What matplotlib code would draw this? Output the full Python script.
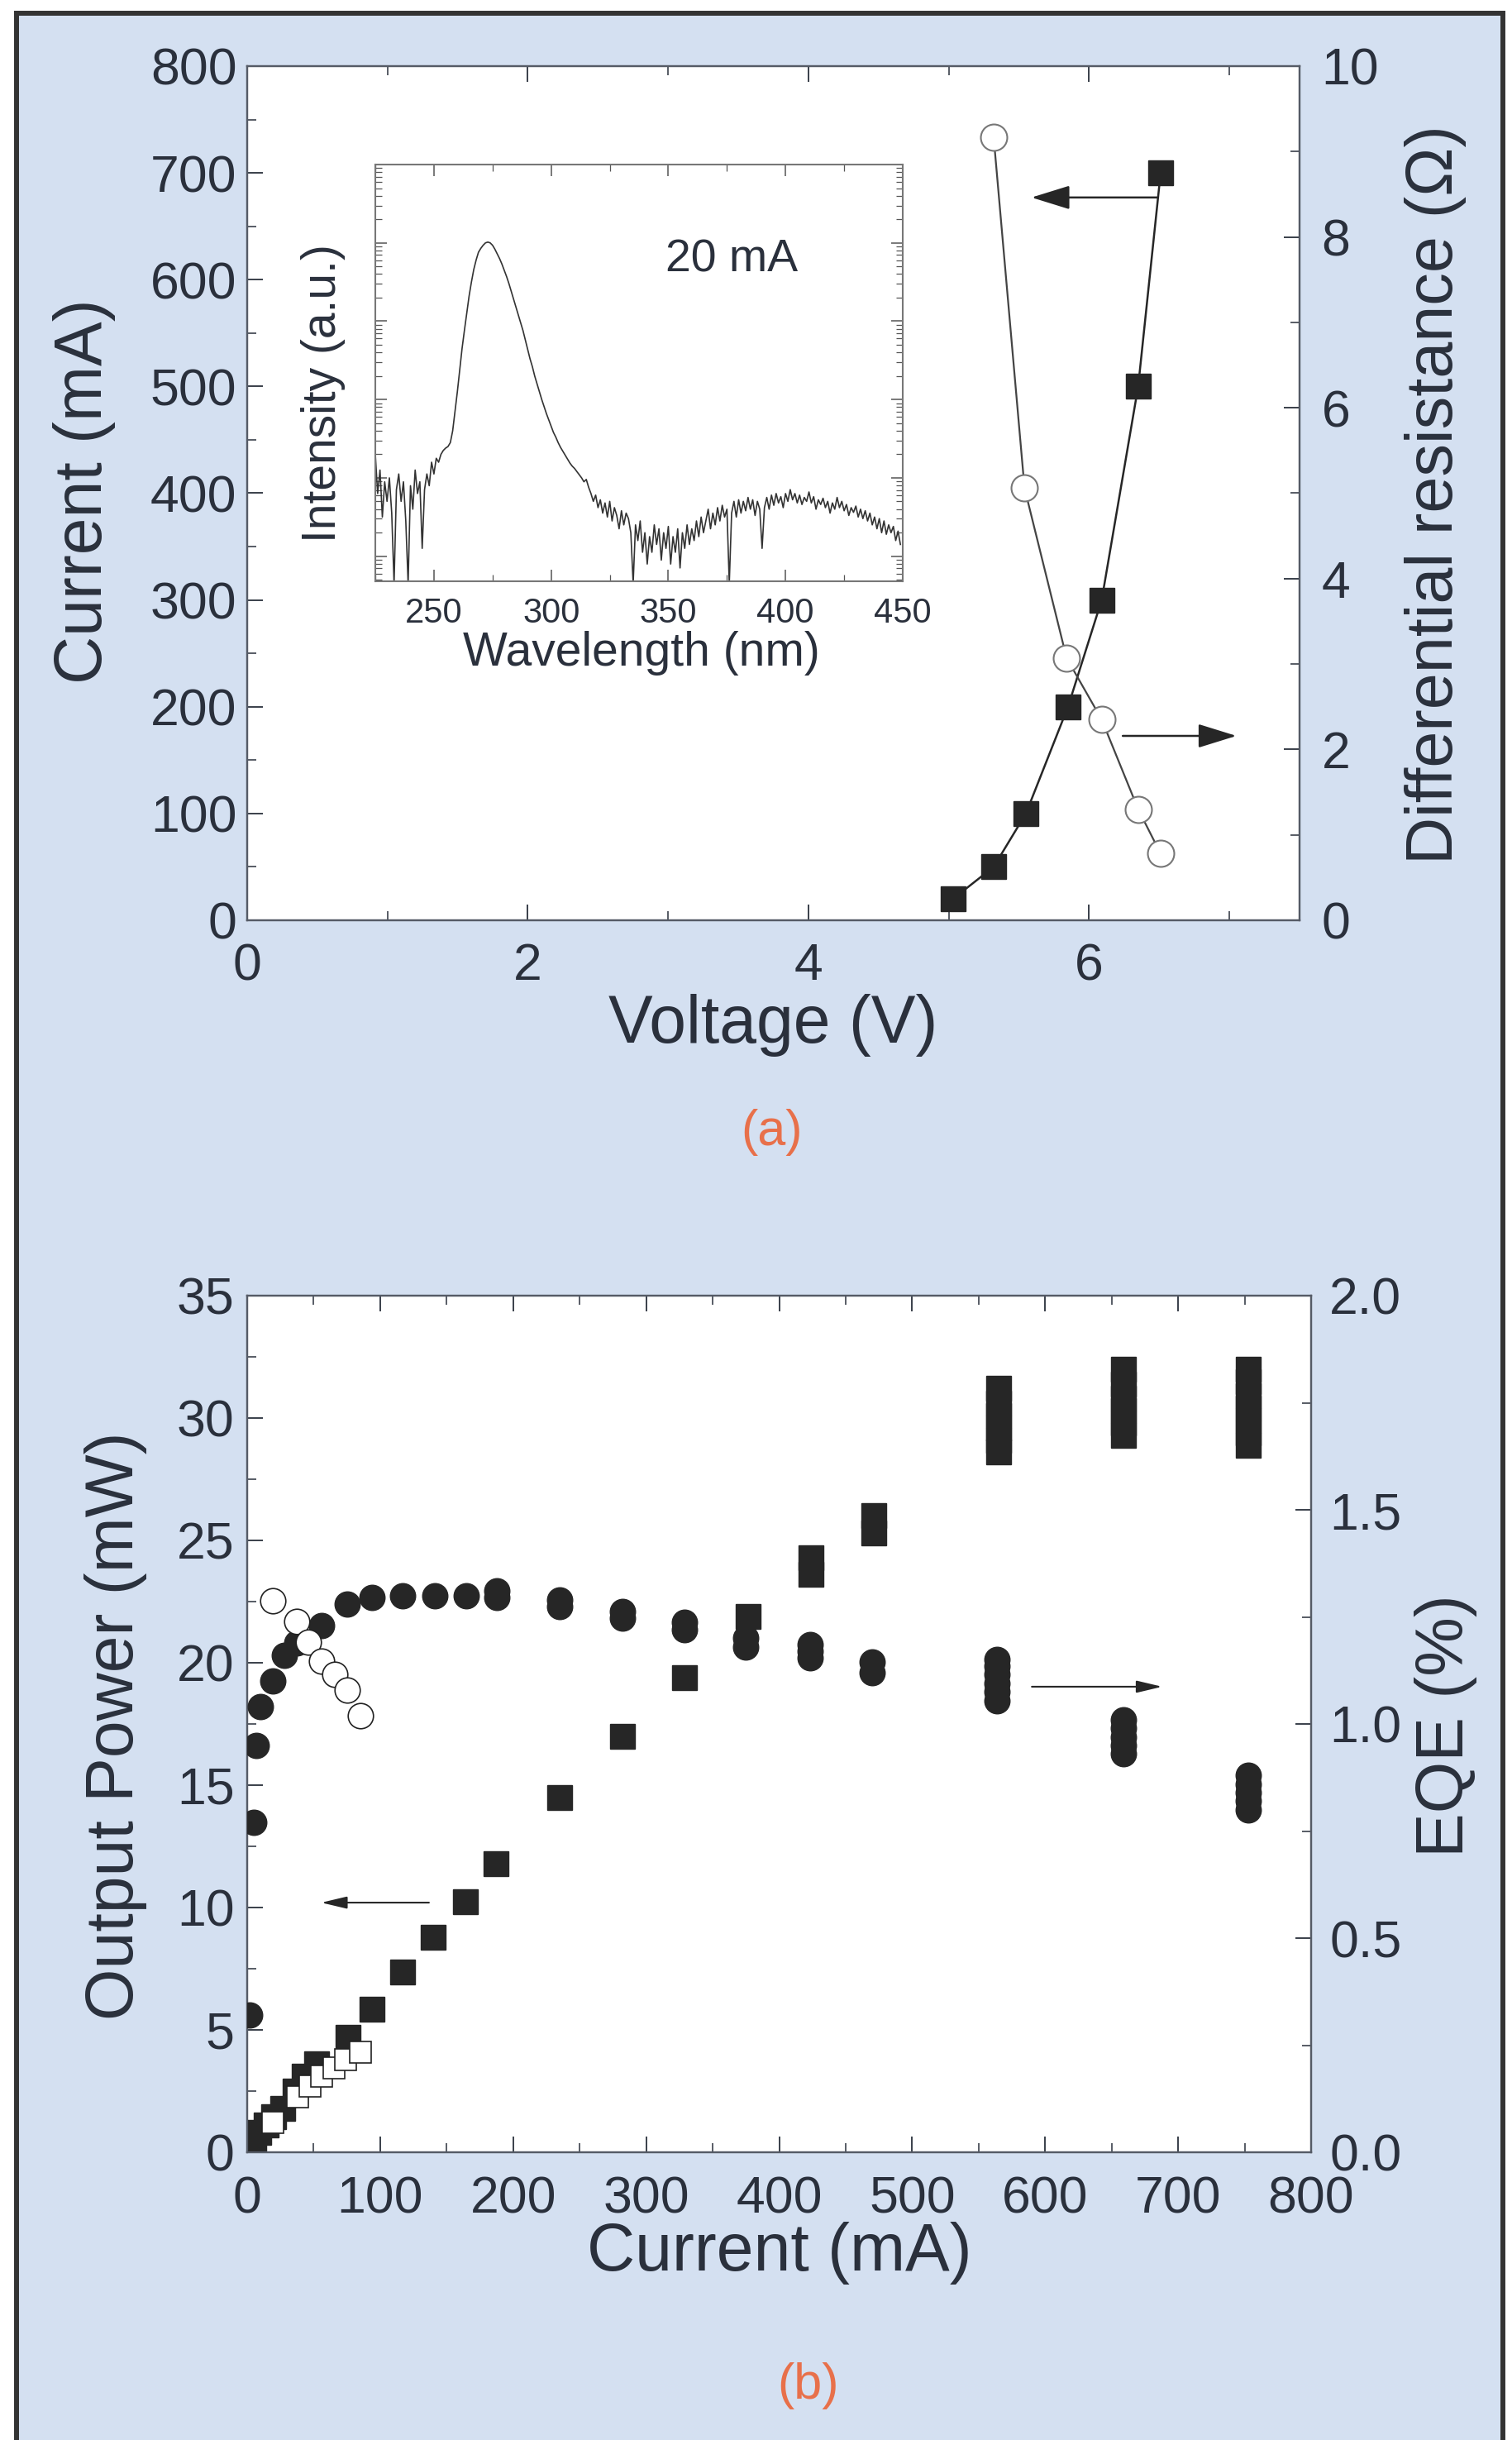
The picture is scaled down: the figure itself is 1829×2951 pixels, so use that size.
import matplotlib.pyplot as plt
import numpy as np
from matplotlib.lines import Line2D
from matplotlib.patches import Rectangle
from matplotlib.ticker import MultipleLocator, LogLocator, NullFormatter

plt.rcParams['font.family'] = ['Liberation Sans', 'DejaVu Sans']

# ---- panel (a): I-V and differential resistance ----
voltage = [5.03, 5.32, 5.55, 5.85, 6.09, 6.35, 6.51]
current = [20, 50, 100, 200, 300, 500, 700]
res_voltage = [5.32, 5.54, 5.84, 6.09, 6.35, 6.51]
resistance = [9.17, 5.06, 3.07, 2.35, 1.30, 0.78]

# inset spectrum at 20 mA (log10 of intensity, 1 nm steps from 225 nm)
wavelength = np.arange(225, 450)
log_intensity = [
    1.30, 0.80, 1.10, 0.50, 0.95, 0.70, 1.00, 0.55, -0.35, 0.85,
    1.05, 0.70, 0.95, 0.45, -0.35, 0.90, 0.60, 1.10, 0.80, 0.95,
    0.10, 0.85, 1.05, 0.90, 1.20, 1.05, 1.25, 1.20, 1.30, 1.35,
    1.38, 1.40, 1.45, 1.60, 1.85, 2.10, 2.38, 2.65, 2.88, 3.10,
    3.32, 3.50, 3.66, 3.78, 3.88, 3.93, 3.97, 4.00, 4.01, 4.00,
    3.97, 3.92, 3.86, 3.80, 3.73, 3.65, 3.57, 3.48, 3.38, 3.28,
    3.18, 3.08, 2.98, 2.88, 2.76, 2.64, 2.52, 2.42, 2.30, 2.20,
    2.10, 2.00, 1.91, 1.82, 1.74, 1.66, 1.58, 1.52, 1.45, 1.39,
    1.34, 1.29, 1.24, 1.19, 1.15, 1.12, 1.08, 1.04, 1.00, 0.95,
    0.98, 0.88, 0.80, 0.70, 0.78, 0.62, 0.72, 0.55, 0.68, 0.50,
    0.70, 0.45, 0.62, 0.52, 0.35, 0.58, 0.40, 0.55, 0.48, 0.30,
    -0.35, 0.40, 0.20, 0.45, 0.05, 0.30, -0.10, 0.25, 0.05, 0.40,
    0.15, 0.35, -0.05, 0.30, 0.10, 0.38, -0.10, 0.25, 0.05, 0.35,
    -0.15, 0.30, 0.10, 0.40, 0.15, 0.35, 0.20, 0.45, 0.25, 0.50,
    0.30, 0.45, 0.60, 0.35, 0.55, 0.40, 0.62, 0.45, 0.65, 0.50,
    0.60, -0.35, 0.55, 0.70, 0.50, 0.72, 0.55, 0.70, 0.58, 0.75,
    0.60, 0.72, 0.52, 0.70, 0.60, 0.10, 0.62, 0.75, 0.60, 0.78,
    0.65, 0.80, 0.68, 0.76, 0.62, 0.80, 0.70, 0.85, 0.72, 0.80,
    0.68, 0.78, 0.66, 0.75, 0.70, 0.82, 0.68, 0.76, 0.60, 0.72,
    0.66, 0.74, 0.62, 0.70, 0.55, 0.68, 0.60, 0.75, 0.62, 0.70,
    0.58, 0.66, 0.52, 0.62, 0.56, 0.64, 0.50, 0.60, 0.48, 0.58,
    0.45, 0.55, 0.40, 0.50, 0.35, 0.48, 0.30, 0.45, 0.28, 0.40,
    0.30, 0.38, 0.20, 0.32, 0.15,
]

# ---- panel (b): L-I and EQE ----
pow_current = [2, 5, 9, 14, 20, 27, 36, 43, 52, 76, 94, 117, 140, 164, 187,
               235, 282, 329, 377, 424, 424, 471, 471,
               565, 565, 565, 565, 565, 565,
               659, 659, 659, 659, 659, 659,
               753, 753, 753, 753, 753, 753, 753]
power = [0.2, 0.45, 0.8, 1.1, 1.45, 1.8, 2.5, 3.1, 3.6, 4.7, 5.85, 7.35, 8.8, 10.25, 11.8,
         14.5, 17.0, 19.4, 21.9, 23.6, 24.3, 25.3, 26.0,
         28.6, 29.1, 29.6, 30.1, 30.6, 31.2,
         29.3, 29.8, 30.3, 30.8, 31.4, 32.0,
         28.9, 29.4, 29.9, 30.4, 30.9, 31.5, 32.0]
pow2_current = [19, 38, 47, 56, 65, 74, 85]
power2 = [1.2, 2.25, 2.7, 3.1, 3.45, 3.8, 4.1]

eqe_current = [2, 5, 7, 10, 19, 28, 37, 56, 75, 94, 117, 141, 165, 188, 188,
               235, 235, 282, 282, 329, 329, 375, 375, 423, 423, 423, 470, 470,
               564, 564, 564, 564, 564, 564,
               659, 659, 659, 659, 659,
               753, 753, 753, 753, 753]
eqe = [0.32, 0.77, 0.95, 1.04, 1.10, 1.16, 1.19, 1.23, 1.28, 1.295, 1.30, 1.30, 1.30, 1.295, 1.31,
       1.275, 1.29, 1.247, 1.262, 1.22, 1.237, 1.18, 1.20, 1.155, 1.17, 1.185, 1.12, 1.145,
       1.054, 1.075, 1.095, 1.115, 1.135, 1.15,
       0.93, 0.95, 0.97, 0.99, 1.01,
       0.80, 0.82, 0.84, 0.86, 0.88]
eqe2_current = [19, 37, 46, 56, 66, 75, 85]
eqe2 = [1.288, 1.239, 1.191, 1.147, 1.115, 1.080, 1.020]

W, H = 1829, 2951
BLUE = '#d4e0f1'
INK = '#2a303c'
MARK = '#262626'
SPINE = '#555b66'

fig = plt.figure(figsize=(W / 100, H / 100), dpi=100)
fig.patch.set_facecolor('white')
fig.add_artist(Rectangle((18 / W, 0), (1820 - 18) / W, 1 - 14 / H, transform=fig.transFigure,
                         facecolor=BLUE, edgecolor='none', zorder=-10))
for xs, ys in [([20 / W, 20 / W], [0, 1 - 16 / H]),
               ([20 / W, 1818 / W], [1 - 16 / H, 1 - 16 / H]),
               ([1818 / W, 1818 / W], [1 - 16 / H, 0])]:
    fig.add_artist(Line2D(xs, ys, transform=fig.transFigure, color='#333333', lw=4.3))


def style(ax, xpad, ypad):
    for s in ax.spines.values():
        s.set_color(SPINE)
        s.set_linewidth(1.6)
    ax.tick_params(which='both', direction='in', colors=INK, labelcolor=INK, labelsize=45)
    ax.tick_params(which='major', length=14, width=1.3)
    ax.tick_params(which='minor', length=8, width=1.1)
    ax.tick_params(axis='x', pad=xpad)
    ax.tick_params(axis='y', pad=ypad)


# ---------------- panel (a) ----------------
axa = fig.add_axes([299 / W, 1 - 1113 / H, 1273 / W, 1033 / H])
axa.set_facecolor('white')
axa.plot(voltage, current, '-', color=MARK, lw=1.8, marker='s', ms=21,
         mfc=MARK, mec=MARK, zorder=3)
axa.set_xlim(0, 7.5)
axa.set_ylim(0, 800)
axa.xaxis.set_major_locator(MultipleLocator(2))
axa.xaxis.set_minor_locator(MultipleLocator(1))
axa.yaxis.set_major_locator(MultipleLocator(100))
axa.yaxis.set_minor_locator(MultipleLocator(50))
style(axa, 19, 9)
axa.tick_params(which='both', top=True, right=False)
axa.set_xlabel('Voltage (V)', fontsize=58, color=INK, va='center')
axa.xaxis.set_label_coords(0.5, -0.123)
axa.set_ylabel('Current (mA)', fontsize=58, color=INK, va='center')
axa.yaxis.set_label_coords(-0.155, 0.502)

axa2 = axa.twinx()
axa2.plot(res_voltage, resistance, '-', color='#444444', lw=1.6, marker='o', ms=23,
          mfc='white', mec='#777777', mew=1.5, zorder=3)
axa2.set_ylim(0, 10)
axa2.yaxis.set_major_locator(MultipleLocator(2))
axa2.yaxis.set_minor_locator(MultipleLocator(1))
style(axa2, 19, 19)
axa2.tick_params(which='both', left=False, top=False, bottom=False)
axa2.set_ylabel('Differential resistance (\u03a9)', fontsize=57, color=INK,
                rotation=90, va='center')
axa2.yaxis.set_label_coords(1.129, 0.4985)

axa.annotate('', xy=(5.59, 677), xytext=(6.49, 677),
             arrowprops=dict(arrowstyle='-|>,head_length=2.9,head_width=0.9',
                             color=MARK, lw=1.8, shrinkA=0, shrinkB=0), zorder=4)
axa.annotate('', xy=(7.05, 172.7), xytext=(6.24, 172.7),
             arrowprops=dict(arrowstyle='-|>,head_length=2.9,head_width=0.9',
                             color=MARK, lw=1.8, shrinkA=0, shrinkB=0), zorder=4)

# inset
axi = fig.add_axes([454 / W, 1 - 703 / H, 638 / W, 504 / H])
axi.set_facecolor('white')
axi.plot(wavelength, 10 ** np.array(log_intensity), color='#333333', lw=1.2)
axi.set_yscale('log')
axi.set_xlim(225, 450)
axi.set_ylim(10 ** -0.32, 1e5)
axi.xaxis.set_major_locator(MultipleLocator(50))
axi.xaxis.set_minor_locator(MultipleLocator(25))
axi.yaxis.set_major_locator(LogLocator(base=10, numticks=10))
axi.yaxis.set_minor_locator(LogLocator(base=10, subs=np.arange(2, 10), numticks=20))
axi.yaxis.set_major_formatter(NullFormatter())
axi.yaxis.set_minor_formatter(NullFormatter())
for s in axi.spines.values():
    s.set_color('#777777')
    s.set_linewidth(1.5)
axi.tick_params(which='both', direction='in', top=True, right=True, colors='#555555',
                labelcolor=INK, labelsize=30)
axi.tick_params(which='major', length=10, width=1.1)
axi.tick_params(which='minor', length=6, width=0.9)
axi.tick_params(axis='x', pad=14)
axi.set_xlabel('Wavelength (nm)', fontsize=41, color=INK, va='center')
axi.xaxis.set_label_coords(0.505, -0.173)
axi.set_ylabel('Intensity (a.u.)', fontsize=41, color=INK, va='center')
axi.yaxis.set_label_coords(-0.099, 0.452)
axi.text(377, 10 ** 3.78, '20 mA', fontsize=40, color=INK, ha='center', va='center')

fig.text(933 / W, 1 - 1370 / H, '(a)', fontsize=44, color='#e8704a', ha='center', va='center')

# ---------------- panel (b) ----------------
axb = fig.add_axes([299 / W, 1 - 2603 / H, 1287 / W, 1036 / H])
axb.set_facecolor('white')
axb.plot(pow_current, power, 's', ms=21, color=MARK, mec=MARK, zorder=3)
axb.plot(pow2_current, power2, 's', ms=19, mfc='white', mec='#222222', mew=1.2, zorder=5)
axb.set_xlim(0, 800)
axb.set_ylim(0, 35)
axb.xaxis.set_major_locator(MultipleLocator(100))
axb.xaxis.set_minor_locator(MultipleLocator(50))
axb.yaxis.set_major_locator(MultipleLocator(5))
axb.yaxis.set_minor_locator(MultipleLocator(2.5))
style(axb, 20, 11)
axb.tick_params(which='both', top=True, right=False)
axb.set_xlabel('Current (mA)', fontsize=58, color=INK, va='center')
axb.xaxis.set_label_coords(0.5, -0.118)
axb.set_ylabel('Output Power (mW)', fontsize=58, color=INK, va='center')
axb.yaxis.set_label_coords(-0.1235, 0.498)
axb.annotate('', xy=(55.7, 10.2), xytext=(136.7, 10.2),
             arrowprops=dict(arrowstyle='-|>,head_length=1.9,head_width=0.45',
                             color=MARK, lw=1.5, shrinkA=0, shrinkB=0), zorder=4)

axb2 = axb.twinx()
axb2.plot(eqe_current, eqe, 'o', ms=22, color=MARK, mec=MARK, zorder=3)
axb2.plot(eqe2_current, eqe2, 'o', ms=22, mfc='white', mec='#222222', mew=1.2, zorder=5)
axb2.set_ylim(0, 2.0)
axb2.yaxis.set_major_locator(MultipleLocator(0.5))
axb2.yaxis.set_minor_locator(MultipleLocator(0.25))
axb2.yaxis.set_major_formatter(plt.FormatStrFormatter('%.1f'))
style(axb2, 20, 16)
axb2.tick_params(which='both', left=False, top=False, bottom=False)
axb2.set_ylabel('EQE (%)', fontsize=58, color=INK, rotation=90, va='center')
axb2.yaxis.set_label_coords(1.127, 0.498)
axb2.annotate('', xy=(688, 1.087), xytext=(590, 1.087),
              arrowprops=dict(arrowstyle='-|>,head_length=1.9,head_width=0.45',
                              color=MARK, lw=1.5, shrinkA=0, shrinkB=0), zorder=4)

fig.text(978 / W, 1 - 2886 / H, '(b)', fontsize=44, color='#e8704a', ha='center', va='center')

fig.savefig('out.png', dpi=100, facecolor=fig.get_facecolor())
